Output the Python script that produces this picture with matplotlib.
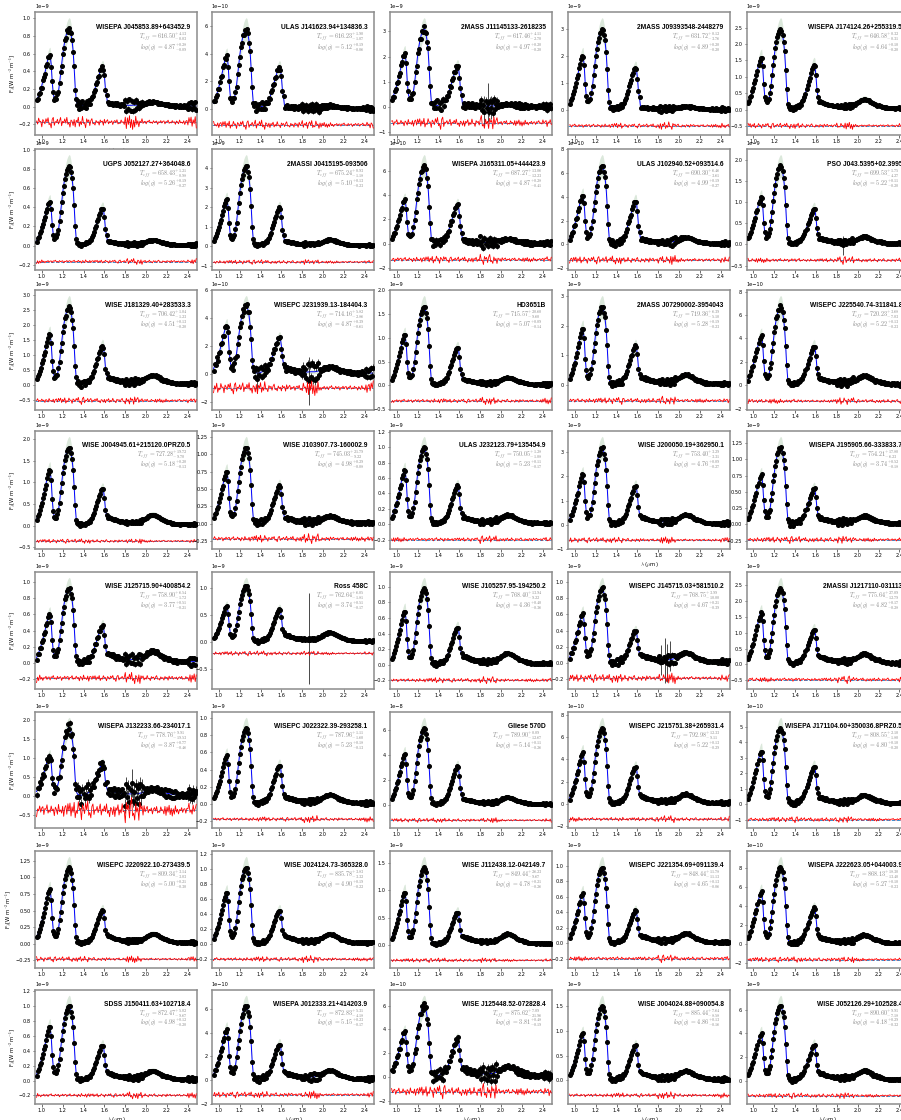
import numpy as np
import matplotlib
matplotlib.use("Agg")
import matplotlib.pyplot as plt
from matplotlib.ticker import MaxNLocator, FixedLocator, FormatStrFormatter

plt.rcParams['mathtext.fontset'] = 'cm'
plt.rcParams['font.family'] = ['DejaVu Sans']

# ---------------- data ----------------
wavelength = np.round(np.linspace(0.95, 2.48, 154), 2)

# normalised T-dwarf spectral template (J peak = 1)
template = [
    0.08, 0.12, 0.16, 0.20, 0.25, 0.30, 0.36, 0.42, 0.48, 0.55,
    0.62, 0.68, 0.72, 0.73, 0.60, 0.35, 0.18, 0.12, 0.10, 0.11,
    0.14, 0.20, 0.30, 0.42, 0.55, 0.66, 0.76, 0.84, 0.90, 0.95,
    0.98, 1.00, 0.99, 0.93, 0.85, 0.72, 0.50, 0.25, 0.08, 0.03,
    0.02, 0.015, 0.01, 0.01, 0.015, 0.02, 0.025, 0.03, 0.035, 0.04,
    0.05, 0.06, 0.08, 0.10, 0.13, 0.17, 0.21, 0.25, 0.29, 0.33,
    0.37, 0.41, 0.44, 0.46, 0.45, 0.35, 0.20, 0.13, 0.12, 0.115,
    0.11, 0.105, 0.10, 0.095, 0.09, 0.085, 0.08, 0.075, 0.07, 0.065,
    0.06, 0.06, 0.055, 0.055, 0.05, 0.05, 0.05, 0.045, 0.045, 0.045,
    0.045, 0.045, 0.05, 0.05, 0.05, 0.05, 0.05, 0.05, 0.055, 0.06,
    0.065, 0.07, 0.08, 0.09, 0.10, 0.11, 0.12, 0.13, 0.14, 0.145,
    0.15, 0.155, 0.155, 0.15, 0.145, 0.14, 0.13, 0.12, 0.11, 0.10,
    0.09, 0.08, 0.075, 0.07, 0.065, 0.06, 0.055, 0.05, 0.045, 0.04,
    0.035, 0.03, 0.03, 0.025, 0.025, 0.02, 0.02, 0.02, 0.02, 0.02,
    0.02, 0.02, 0.02, 0.02, 0.02, 0.02, 0.02, 0.02, 0.02, 0.02,
    0.02, 0.02, 0.02, 0.02]

# residual / scatter shape (normalised)
pattern = [
    0.3, -0.5, 0.8, -0.2, 0.4, -0.9, 0.6, 0.1, -0.4, 0.7,
    -0.3, 0.9, -0.6, 0.2, -1.0, 0.5, 0.8, -0.7, 0.3, -0.2,
    0.6, -0.4, 0.1, 0.9, -0.8, 0.4, -0.3, 0.7, -0.5, 1.0,
    -0.6, 0.3, -0.9, 0.5, 0.2, -0.7, 0.8, -1.0, 0.6, -0.3,
    0.9, -0.8, 0.4, -0.6, 1.0, -0.4, 0.2, -0.9, 0.7, -0.2,
    0.5, -0.6, 0.3, 0.8, -0.5, 0.1, -0.7, 0.6, -0.3, 0.4,
    -0.8, 0.7, -0.2, 0.5, -0.9, 0.9, -0.4, 0.2, 0.6, -0.5,
    0.3, -0.2, 0.5, -0.6, 0.2, 0.4, -0.3, 0.7, -0.5, 0.1,
    -0.4, 0.6, -0.2, 0.3, -0.7, 0.9, -1.0, 0.8, -0.6, 1.0,
    -0.9, 0.7, -1.0, 0.6, -0.8, 0.9, -0.5, 0.4, -0.6, 0.3,
    -0.2, 0.5, -0.4, 0.2, 0.3, -0.5, 0.4, -0.1, 0.6, -0.3,
    0.2, -0.4, 0.5, -0.2, 0.1, 0.4, -0.6, 0.3, -0.2, 0.5,
    -0.3, 0.2, 0.4, -0.5, 0.3, -0.1, 0.6, -0.4, 0.2, -0.3,
    0.5, -0.2, 0.3, -0.6, 0.4, 0.1, -0.5, 0.7, -0.3, 0.2,
    -0.4, 0.6, -0.7, 0.3, 0.5, -0.6, 0.8, -0.4, 0.9, -0.8,
    0.6, -0.5, 1.0, -0.9]

band_edges = [0.94, 1.345, 1.465, 1.795, 1.965, 2.395, 2.49]
band_noise = [1.0, 1.8, 0.8, 2.5, 0.7, 1.8]
resid_weight = [1.2, 1.4, 0.9, 1.8, 0.8, 1.5]

names = [
    "WISEPA J045853.89+643452.9", "ULAS J141623.94+134836.3", "2MASS J11145133-2618235",
    "2MASS J09393548-2448279", "WISEPA J174124.26+255319.5",
    "UGPS J052127.27+364048.6", "2MASSI J0415195-093506", "WISEPA J165311.05+444423.9",
    "ULAS J102940.52+093514.6", "PSO J043.5395+02.3995",
    "WISE J181329.40+283533.3", "WISEPC J231939.13-184404.3", "HD3651B",
    "2MASS J07290002-3954043", "WISEPC J225540.74-311841.8",
    "WISE J004945.61+215120.0PRZ0.5", "WISE J103907.73-160002.9", "ULAS J232123.79+135454.9",
    "WISE J200050.19+362950.1", "WISEPA J195905.66-333833.7",
    "WISE J125715.90+400854.2", "Ross 458C", "WISE J105257.95-194250.2",
    "WISEPC J145715.03+581510.2", "2MASSI J1217110-031113",
    "WISEPA J132233.66-234017.1", "WISEPC J022322.39-293258.1", "Gliese 570D",
    "WISEPC J215751.38+265931.4", "WISEPA J171104.60+350036.8PRZ0.5",
    "WISEPC J220922.10-273439.5", "WISE J024124.73-365328.0", "WISE J112438.12-042149.7",
    "WISEPC J221354.69+091139.4", "WISEPA J222623.05+044003.9",
    "SDSS J150411.63+102718.4", "WISEPA J012333.21+414203.9", "WISE J125448.52-072828.4",
    "WISE J004024.88+090054.8", "WISE J052126.29+102528.4"]

exponents = [-9, -10, -9, -9, -9,
             -9, -9, -10, -10, -9,
             -9, -10, -9, -9, -10,
             -9, -9, -9, -9, -9,
             -9, -9, -9, -9, -9,
             -9, -9, -8, -10, -10,
             -9, -9, -9, -9, -9,
             -9, -10, -10, -9, -9]
j_peak = [0.88, 5.8, 3.1, 3.0, 2.45,
          0.83, 4.1, 6.4, 6.6, 1.85,
          2.6, 4.9, 1.65, 2.65, 6.7,
          1.8, 1.1, 1.0, 3.2, 1.18,
          0.92, 1.05, 0.98, 0.92, 2.4,
          1.8, 0.88, 6.1, 6.8, 4.9,
          1.15, 1.02, 1.42, 0.98, 0.81,
          1.0, 6.3, 6.0, 1.5, 6.3]
y_ratio = [0.66, 0.66, 0.68, 0.67, 0.65,
           0.55, 0.58, 0.56, 0.62, 0.60,
           0.65, 0.70, 0.64, 0.72, 0.63,
           0.71, 0.68, 0.70, 0.65, 0.64,
           0.65, 0.63, 0.70, 0.66, 0.68,
           0.58, 0.64, 0.66, 0.68, 0.70,
           0.71, 0.67, 0.68, 0.66, 0.68,
           0.72, 0.68, 0.63, 0.63, 0.63]
h_ratio = [0.51, 0.52, 0.52, 0.52, 0.56,
           0.47, 0.48, 0.50, 0.55, 0.46,
           0.50, 0.53, 0.48, 0.50, 0.50,
           0.47, 0.50, 0.50, 0.50, 0.47,
           0.50, 0.58, 0.49, 0.43, 0.46,
           0.47, 0.51, 0.50, 0.49, 0.50,
           0.44, 0.44, 0.42, 0.43, 0.47,
           0.47, 0.48, 0.53, 0.47, 0.48]
k_ratio = [0.06, 0.04, 0.03, 0.04, 0.13,
           0.07, 0.08, 0.06, 0.09, 0.10,
           0.12, 0.10, 0.10, 0.13, 0.12,
           0.14, 0.10, 0.12, 0.13, 0.11,
           0.16, 0.17, 0.15, 0.14, 0.14,
           0.10, 0.12, 0.10, 0.13, 0.12,
           0.13, 0.13, 0.14, 0.13, 0.12,
           0.13, 0.13, 0.15, 0.13, 0.14]
noise_level = [0.030, 0.030, 0.040, 0.015, 0.010,
               0.010, 0.010, 0.030, 0.020, 0.015,
               0.020, 0.050, 0.010, 0.020, 0.020,
               0.010, 0.020, 0.015, 0.015, 0.020,
               0.030, 0.015, 0.015, 0.025, 0.015,
               0.080, 0.015, 0.010, 0.015, 0.015,
               0.010, 0.010, 0.010, 0.015, 0.015,
               0.015, 0.020, 0.050, 0.015, 0.015]
resid_level = [0.050, 0.040, 0.050, 0.025, 0.025,
               0.020, 0.020, 0.035, 0.035, 0.025,
               0.030, 0.060, 0.025, 0.030, 0.025,
               0.020, 0.035, 0.025, 0.025, 0.030,
               0.040, 0.030, 0.025, 0.040, 0.025,
               0.100, 0.025, 0.020, 0.025, 0.025,
               0.025, 0.025, 0.020, 0.025, 0.025,
               0.025, 0.030, 0.060, 0.025, 0.025]
pattern_shift = [0, 17, 33, 51, 8, 64, 23, 41, 12, 77,
                 29, 5, 58, 36, 90, 14, 47, 71, 3, 26,
                 62, 19, 44, 9, 81, 38, 55, 11, 68, 31,
                 2, 49, 22, 74, 15, 60, 7, 35, 53, 28]

teff = [616.50, 616.23, 617.46, 631.72, 646.58, 658.43, 675.24, 687.27, 690.30, 699.53,
        706.42, 714.16, 715.57, 719.36, 720.23, 727.28, 745.03, 750.05, 753.40, 754.21,
        758.90, 762.64, 768.40, 768.75, 775.64, 778.76, 787.96, 789.90, 792.98, 808.55,
        809.34, 835.78, 849.44, 848.44, 868.13, 872.47, 872.83, 875.62, 885.44, 890.60]
teff_up = [4.13, 1.90, 4.11, 0.12, 0.32, 1.21, 0.93, 13.06, 6.46, 1.75,
           1.04, 5.82, 20.60, 6.39, 3.68, 19.72, 21.79, 1.28, 3.29, 17.80,
           6.54, 6.05, 13.94, 3.99, 27.09, 9.91, 1.11, 0.09, 12.33, 2.10,
           3.14, 3.83, 26.23, 11.78, 18.30, 5.02, 5.31, 7.09, 7.64, 9.91]
teff_lo = [0.03, 1.07, 2.70, 3.76, 0.31, 0.98, 1.18, 12.23, 3.61, 4.27,
           1.23, 2.86, 9.60, 5.10, 7.03, 9.70, 9.22, 1.08, 3.31, 6.23,
           1.72, 1.81, 9.22, 10.00, 12.79, 19.53, 1.60, 12.67, 9.11, 1.80,
           3.03, 3.32, 9.67, 11.13, 13.40, 9.67, 4.18, 21.96, 8.58, 7.18]
logg = [4.87, 5.12, 4.97, 4.89, 4.64, 5.26, 5.10, 4.87, 4.99, 5.22,
        4.51, 4.87, 5.07, 5.28, 5.22, 5.18, 4.98, 5.23, 4.76, 3.74,
        3.77, 3.74, 4.36, 4.67, 4.82, 3.87, 5.23, 5.14, 5.22, 4.80,
        5.00, 4.90, 4.78, 4.65, 5.27, 4.98, 5.15, 3.81, 4.86, 4.18]
logg_up = [0.28, 0.19, 0.20, 0.20, 0.10, 0.19, 0.13, 0.28, 0.19, 0.11,
           0.13, 0.39, 0.09, 0.19, 0.13, 0.20, 0.29, 0.11, 0.09, 0.52,
           0.51, 0.51, 0.40, 0.21, 0.17, 0.77, 0.18, 0.11, 0.13, 0.10,
           0.21, 0.19, 0.21, 0.13, 0.10, 0.12, 0.23, 0.48, 0.13, 0.29]
logg_lo = [0.09, 0.06, 0.20, 0.20, 0.20, 0.27, 0.23, 0.41, 0.27, 0.20,
           0.20, 0.61, 0.14, 0.23, 0.23, 0.13, 0.08, 0.17, 0.27, 0.18,
           0.21, 0.17, 0.36, 0.39, 0.28, 0.46, 0.13, 0.26, 0.29, 0.20,
           0.30, 0.22, 0.26, 0.06, 0.23, 0.20, 0.17, 0.19, 0.16, 0.32]

# large individual error bars (panel index: [(wavelength, error / J peak), ...])
spikes = {2: [(1.84, 0.20), (1.87, 0.25), (1.90, 0.15)],
          9: [(1.86, 0.12)],
          11: [(1.37, 0.20), (1.86, 0.35)],
          21: [(1.86, 0.80)],
          23: [(1.83, 0.20), (1.86, 0.30), (1.88, 0.25), (1.91, 0.20)],
          25: [(1.86, 0.20)]}

xlabel_panels = [0, 18, 35, 36, 37, 38, 39]

# ---------------- layout ----------------
FW, FH = 901, 1120
col_left = [35, 212, 390, 568, 746.5]
row_top = [12, 149, 290, 431, 572, 712, 851, 990]
row_bot = [135, 270, 410, 549, 689, 828, 968, 1104]
AXW = 162

fig = plt.figure(figsize=(FW / 100, FH / 100), dpi=100)

wl = wavelength
tpl = np.array(template)
pat0 = np.array(pattern)
weight = np.ones_like(wl)
rweight = np.ones_like(wl)
for lo, hi, w, rw in zip(band_edges[:-1], band_edges[1:], band_noise, resid_weight):
    sel = (wl >= lo) & (wl < hi)
    weight[sel] = w
    rweight[sel] = rw

yseg = wl <= 1.125
hseg = (wl > 1.345) & (wl <= 1.625)
kseg = wl > 1.625

for i, name in enumerate(names):
    r, c = divmod(i, 5)
    ax = fig.add_axes([col_left[c] / FW, 1 - row_bot[r] / FH, AXW / FW,
                       (row_bot[r] - row_top[r]) / FH])
    scale = j_peak[i] * 10.0 ** exponents[i]
    fac = np.ones_like(wl)
    fac[yseg] = y_ratio[i] / 0.73
    fac[hseg] = h_ratio[i] / 0.46
    fac[kseg] = k_ratio[i] / 0.155
    model = tpl * fac * scale
    pat = np.roll(pat0, pattern_shift[i])
    smooth = np.convolve(pat, [0.15, 0.7, 0.15], mode='same') * 2.0
    flux = model + noise_level[i] * weight * pat * scale
    err = 0.5 * noise_level[i] * weight * scale
    for (sw, se) in spikes.get(i, []):
        k = int(np.argmin(np.abs(wl - sw)))
        err[k] = se * scale
    offset = -0.2 * np.max(flux)
    resid = offset + resid_level[i] * rweight * smooth * scale
    half = (0.12 * tpl * fac + 0.025) * scale

    ax.fill_between(wl, model - half, model + half, color='#c4d9c4', alpha=0.6,
                    lw=0, zorder=1)
    ax.plot(wl, model, color='blue', lw=0.7, zorder=2)
    ax.errorbar(wl, flux, yerr=err, fmt='o', ms=2.6, color='black', ecolor='black',
                elinewidth=0.5, capsize=0, zorder=3)
    ax.axhline(offset, color='#3a8fd0', ls='--', lw=0.7, zorder=2)
    ax.plot(wl, resid, color='red', lw=0.6, zorder=4)

    ax.set_xlim(0.935, 2.487)
    ax.xaxis.set_major_locator(FixedLocator([1.0, 1.2, 1.4, 1.6, 1.8, 2.0, 2.2, 2.4]))
    ax.xaxis.set_major_formatter(FormatStrFormatter('%.1f'))
    ax.yaxis.set_major_locator(MaxNLocator(nbins=8, steps=[1, 2, 2.5, 5, 10]))
    ax.tick_params(labelsize=3.6, length=1.8, width=0.4, pad=1.2)
    ax.yaxis.get_offset_text().set_fontsize(3.6)
    for s in ax.spines.values():
        s.set_color('#8c8c8c')
        s.set_linewidth(1.1)

    ax.text(0.96, 0.875, name, transform=ax.transAxes, ha='right', va='center',
            fontsize=4.8, fontweight='bold', family='Liberation Sans', zorder=6)
    ax.text(0.945, 0.79,
            r'$T_{eff}\,=\,%.2f^{+%.2f}_{-%.2f}$' % (teff[i], teff_up[i], teff_lo[i]),
            transform=ax.transAxes, ha='right', va='center', fontsize=4.4,
            color='#8a8a8a', zorder=6)
    ax.text(0.945, 0.715,
            r'$log(g)\,=\,%.2f^{+%.2f}_{-%.2f}$' % (logg[i], logg_up[i], logg_lo[i]),
            transform=ax.transAxes, ha='right', va='center', fontsize=4.4,
            color='#8a8a8a', zorder=6)
    if c == 0:
        ax.set_ylabel(r'F$_\lambda$[W m$^{-2}$m$^{-1}$]', fontsize=3.8, labelpad=1.5)
    if i in xlabel_panels:
        ax.set_xlabel(r'$\lambda$ ($\mu$m)', fontsize=3.8, labelpad=1.0)

fig.savefig('out.png', dpi=100)
